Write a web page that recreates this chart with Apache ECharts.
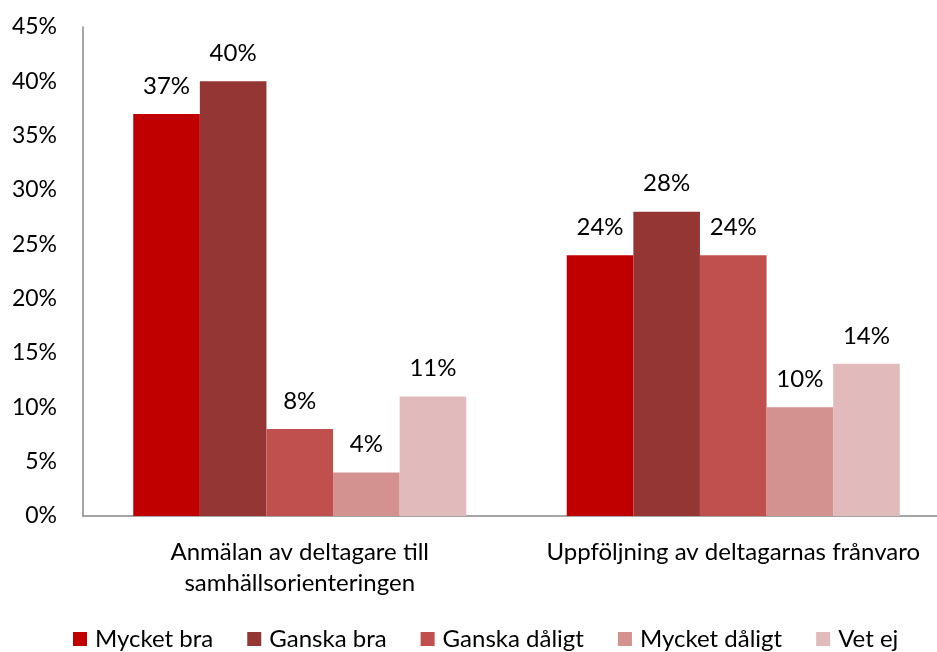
<!DOCTYPE html>
<html>
<head>
<meta charset="utf-8">
<script src="https://cdn.jsdelivr.net/npm/echarts@6/dist/echarts.min.js"></script>
<style>
  html, body { margin: 0; padding: 0; background: #fff; }
  #chart { width: 937px; height: 652px; }
</style>
</head>
<body>
<div id="chart"></div>
<script>
// kategorier och serier
const categories = ["Anmälan av deltagare till\nsamhällsorienteringen", "Uppföljning av deltagarnas frånvaro"];
const seriesNames = ["Mycket bra", "Ganska bra", "Ganska dåligt", "Mycket dåligt", "Vet ej"];
const mycketBra = [37, 24];
const ganskaBra = [40, 28];
const ganskaDaligt = [8, 24];
const mycketDaligt = [4, 10];
const vetEj = [11, 14];
const colors = ["#C00000", "#943634", "#C0504D", "#D39190", "#E1BBBB"];

const values = [mycketBra, ganskaBra, ganskaDaligt, mycketDaligt, vetEj];
const font = "Lato";

let myChart = echarts.init(document.getElementById("chart"));
myChart.setOption({
  animation: false,
  textStyle: { fontFamily: font },
  grid: { left: 83, width: 867, top: 27, bottom: 136, outerBoundsMode: "none", containLabel: false },
  legend: {
    top: 627,
    left: 73,
    padding: 0,
    itemWidth: 14,
    itemHeight: 14,
    itemGap: 34,
    icon: "rect",
    textStyle: { fontFamily: font, fontSize: 24, color: "#000", padding: [0, 0, 0, 3] },
    data: seriesNames
  },
  xAxis: {
    type: "category",
    data: categories,
    axisLine: { lineStyle: { color: "#888", width: 1.5 } },
    axisTick: { show: false },
    axisLabel: { color: "#000", fontSize: 24, fontFamily: font, lineHeight: 31, margin: 21, interval: 0 }
  },
  yAxis: {
    type: "value",
    min: 0,
    max: 45,
    interval: 5,
    axisLine: { show: true, lineStyle: { color: "#888", width: 1.5 } },
    axisTick: { show: false },
    splitLine: { show: false },
    axisLabel: { color: "#000", fontSize: 23, fontFamily: font, margin: 26, formatter: "{value}%" }
  },
  series: seriesNames.map((name, i) => ({
    name: name,
    type: "bar",
    data: values[i],
    barWidth: 66.6,
    barGap: "0%",
    itemStyle: { color: colors[i] },
    label: {
      show: true,
      position: "top",
      distance: 16,
      color: "#000",
      fontSize: 24,
      fontFamily: font,
      formatter: "{c}%"
    }
  }))
});
</script>
</body>
</html>
